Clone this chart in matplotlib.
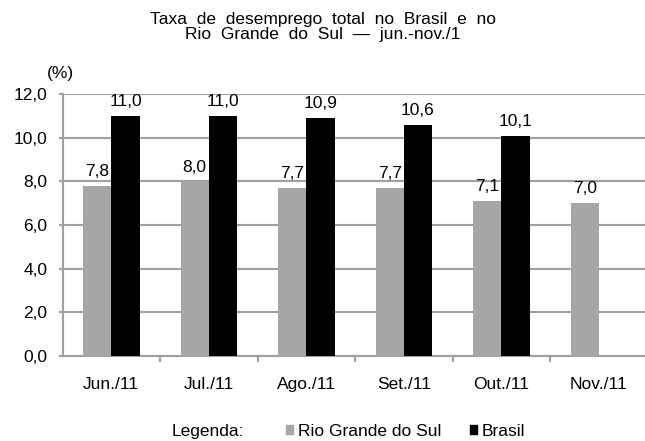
import numpy as np
import matplotlib
matplotlib.use("Agg")
import matplotlib.pyplot as plt
from matplotlib.patches import Patch

plt.rcParams['font.family'] = ['Liberation Sans', 'DejaVu Sans']

meses = ["Jun./11", "Jul./11", "Ago./11", "Set./11", "Out./11", "Nov./11"]
rs = [7.8, 8.0, 7.7, 7.7, 7.1, 7.0]
brasil = [11.0, 11.0, 10.9, 10.6, 10.1, None]

cinza = '#a6a6a6'
eixo = '#a0a0a0'
fs = 12.5

fig = plt.figure(figsize=(6.45, 4.41), dpi=100)
ax = fig.add_axes([0.097, 0.1927, 0.907, 0.594])

x = np.arange(len(meses))
w = 0.29
for i in range(len(meses)):
    ax.bar(x[i] - w/2, rs[i], w, color=cinza, zorder=3)
    ax.text(x[i] - w/2, rs[i] + 0.45, f"{rs[i]:.1f}".replace('.', ','),
            ha='center', va='baseline', fontsize=fs)
    if brasil[i] is not None:
        ax.bar(x[i] + w/2, brasil[i], w, color='black', zorder=3)
        ax.text(x[i] + w/2, brasil[i] + 0.45, f"{brasil[i]:.1f}".replace('.', ','),
                ha='center', va='baseline', fontsize=fs)

ax.set_xlim(-0.5, len(meses) - 0.5)
ax.set_ylim(0, 12)
yt = np.arange(0, 12.1, 2)
ax.set_yticks(yt)
ax.set_yticklabels([f"{v:.1f}".replace('.', ',') for v in yt])
ax.set_xticks(x)
ax.set_xticklabels(meses)
# marcas entre as categorias
ax.set_xticks(np.arange(0.5, len(meses) - 0.5, 1), minor=True)
ax.tick_params(axis='x', which='major', length=0, pad=15, labelsize=fs)
ax.tick_params(axis='x', which='minor', length=4, width=1.5, color=eixo, direction='out')
ax.tick_params(axis='y', length=3, width=1.5, color=eixo, labelsize=fs, pad=8)

ax.grid(axis='y', color=eixo, linewidth=1.5, zorder=0)
ax.set_axisbelow(True)
for s in ['top', 'right']:
    ax.spines[s].set_visible(False)
for s in ['left', 'bottom']:
    ax.spines[s].set_color(eixo)
    ax.spines[s].set_linewidth(1.5)

fig.text(0.5, 0.972, "Taxa  de  desemprego  total  no  Brasil  e  no\nRio  Grande  do  Sul  —  jun.-nov./1",
         ha='center', va='top', fontsize=fs, linespacing=0.97)
fig.text(0.093, 0.834, "(%)", ha='center', va='center', fontsize=fs)

fig.text(0.323, 0.022, "Legenda:", ha='center', va='center', fontsize=fs)
handles = [Patch(color=cinza, label='Rio Grande do Sul'),
           Patch(color='black', label='Brasil')]
fig.legend(handles=handles, loc='center', bbox_to_anchor=(0.629, 0.022), ncol=2,
           frameon=False, fontsize=fs, handlelength=0.4, handleheight=0.4,
           handletextpad=0.25, columnspacing=1.7, borderpad=0, borderaxespad=0)

fig.savefig('out.png', dpi=100)
